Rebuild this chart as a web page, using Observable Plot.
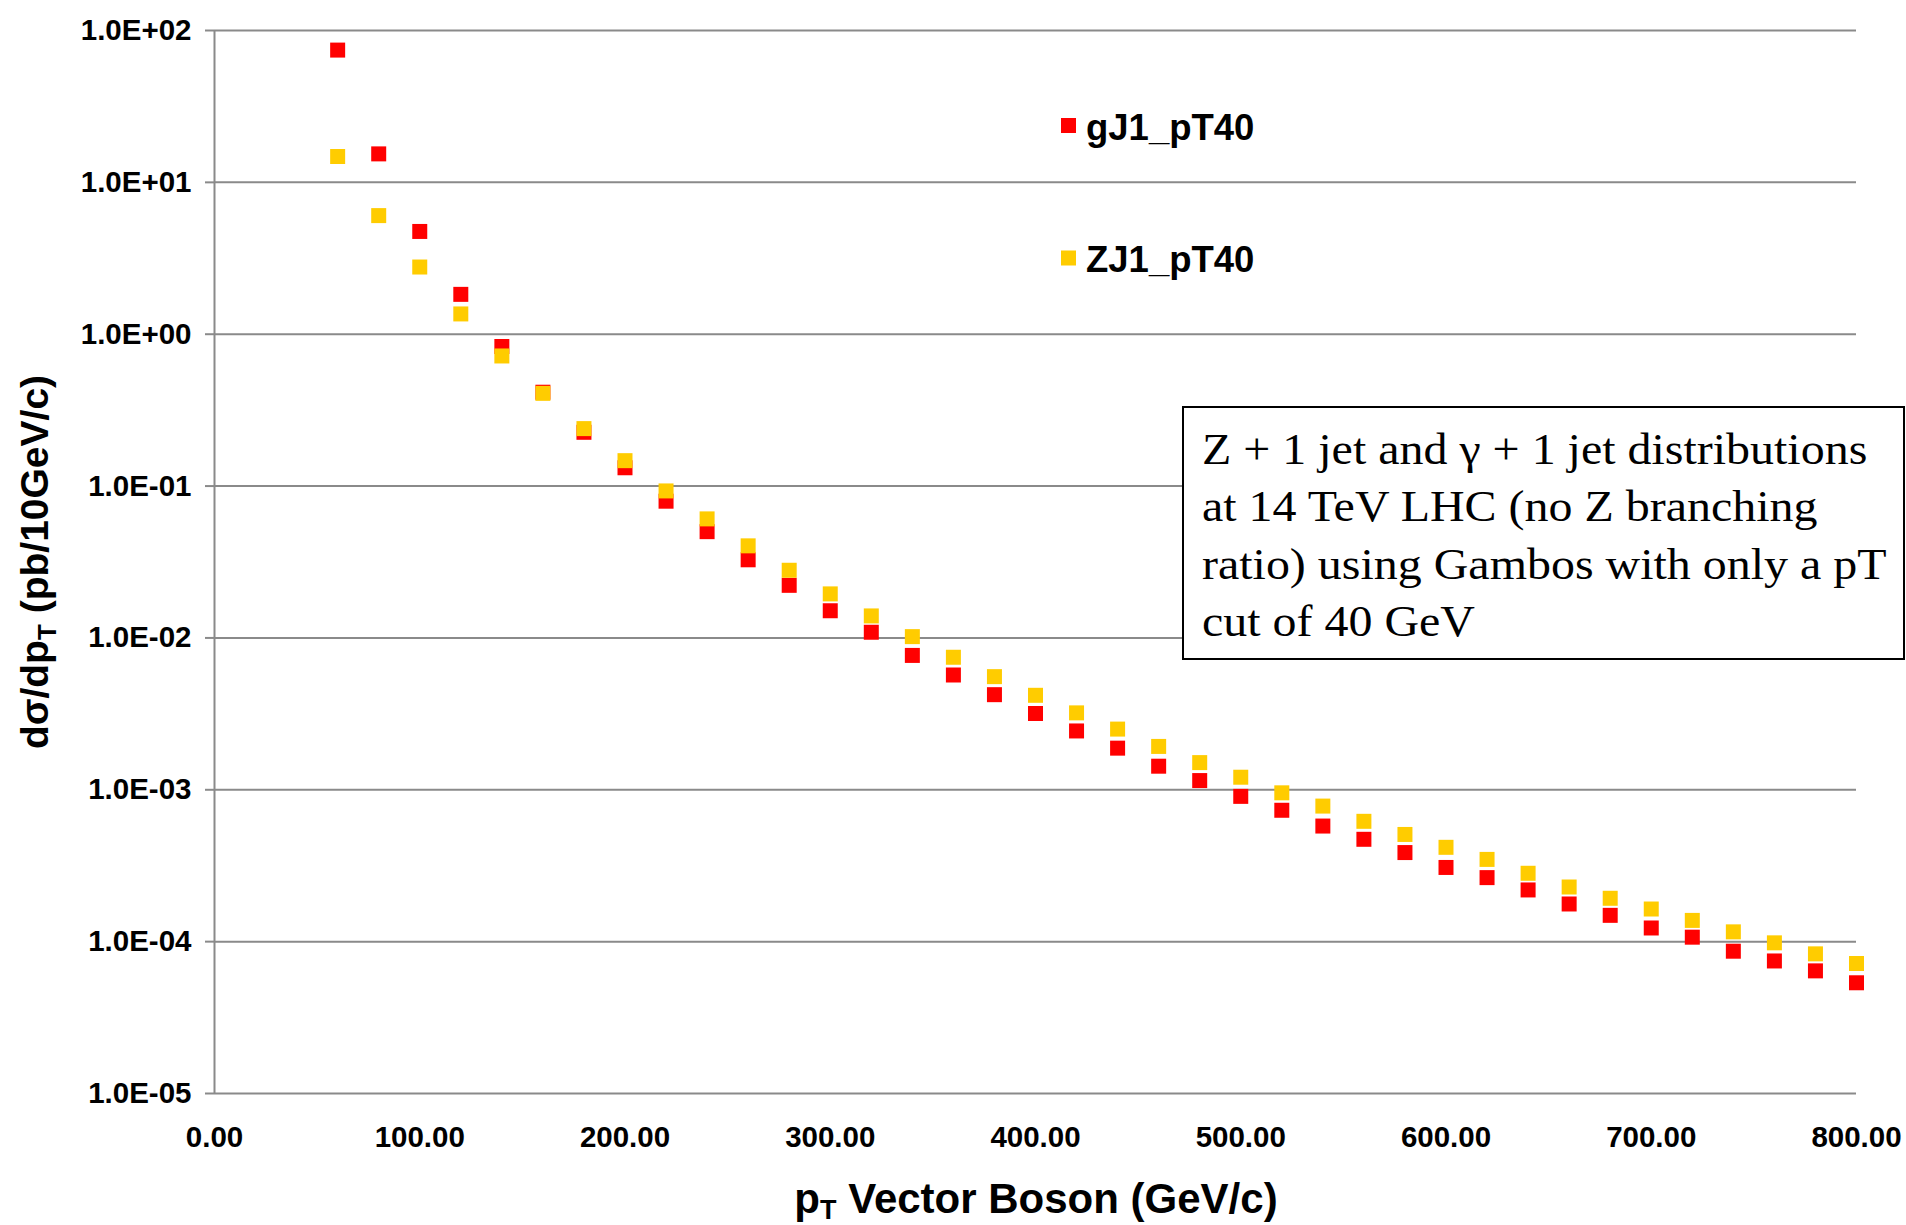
<!DOCTYPE html>
<html>
<head>
<meta charset="utf-8">
<script src="https://cdn.jsdelivr.net/npm/d3@7"></script>
<script src="https://cdn.jsdelivr.net/npm/@observablehq/plot@0.6"></script>
<style>
  html, body { margin: 0; padding: 0; background: #fff; }
</style>
</head>
<body>
<div id="chart"></div>
<script>
// ---- data ----
const pT = [60, 80, 100, 120, 140, 160, 180, 200, 220, 240, 260, 280, 300, 320, 340, 360, 380, 400, 420,
  440, 460, 480, 500, 520, 540, 560, 580, 600, 620, 640, 660, 680, 700, 720, 740, 760, 780, 800];

const gJ1_pT40 = [74.3, 15.4, 4.75, 1.83, 0.83, 0.415, 0.226, 0.132, 0.0795, 0.0501, 0.0327, 0.0222,
  0.0151, 0.0109, 0.00767, 0.0057, 0.00423, 0.00318, 0.00244, 0.00188, 0.00143, 0.00115, 0.000905,
  0.000733, 0.000577, 0.000472, 0.000386, 0.000308, 0.000264, 0.000219, 0.000177, 0.000149, 0.000123,
  0.000107, 0.0000865, 0.0000746, 0.0000642, 0.0000536];

const ZJ1_pT40 = [14.8, 6.04, 2.77, 1.36, 0.719, 0.408, 0.239, 0.147, 0.0929, 0.0608, 0.0404, 0.0279,
  0.0195, 0.01396, 0.0102, 0.00746, 0.00556, 0.00419, 0.00321, 0.00251, 0.00193, 0.00151, 0.00121,
  0.000955, 0.000781, 0.00062, 0.000508, 0.000418, 0.000348, 0.000282, 0.000229, 0.000193, 0.000164,
  0.000138, 0.000116, 0.0000982, 0.0000831, 0.0000718];

const seriesNames = ["gJ1_pT40", "ZJ1_pT40"];
const seriesColors = ["#ff0000", "#ffcc00"];

const yTicks = [1e-5, 1e-4, 1e-3, 1e-2, 1e-1, 1, 10, 100];
const yTickLabels = ["1.0E-05", "1.0E-04", "1.0E-03", "1.0E-02", "1.0E-01", "1.0E+00", "1.0E+01", "1.0E+02"];
const xTicks = [0, 100, 200, 300, 400, 500, 600, 700, 800];
const xTickLabels = ["0.00", "100.00", "200.00", "300.00", "400.00", "500.00", "600.00", "700.00", "800.00"];

const noteLines = [
  "Z + 1 jet and \u03b3 + 1 jet distributions",
  "at 14 TeV LHC (no Z branching",
  "ratio) using Gambos with only a pT",
  "cut of 40 GeV"
];

// ---- build table ----
const rows = [];
pT.forEach((x, i) => rows.push({x, y: gJ1_pT40[i], s: seriesNames[0]}));
pT.forEach((x, i) => rows.push({x, y: ZJ1_pT40[i], s: seriesNames[1]}));

const W = 1906, H = 1225;
const grid = "#8a8a8a";
const sq = 15;
const sans = "'Liberation Sans', Arial, sans-serif";

const svg = Plot.plot({
  width: W,
  height: H,
  marginLeft: 214,
  marginRight: 50,
  marginTop: 30,
  marginBottom: 132,
  style: {
    fontFamily: sans,
    fontSize: "29.5px",
    fontWeight: "bold",
    background: "#fff",
    color: "#000"
  },
  x: {domain: [0, 800]},
  y: {type: "log", domain: [1e-5, 100]},
  color: {domain: seriesNames, range: seriesColors},
  marks: [
    Plot.ruleY(yTicks, {stroke: grid, strokeWidth: 2}),
    Plot.ruleX([0], {stroke: grid, strokeWidth: 2}),
    Plot.axisY({
      ticks: yTicks,
      tickFormat: d => yTickLabels[yTicks.indexOf(d)],
      tickSize: 9,
      tickPadding: 14,
      stroke: grid,
      strokeWidth: 2,
      fill: "#000",
      label: null
    }),
    Plot.axisX({
      ticks: xTicks,
      tickFormat: d => xTickLabels[xTicks.indexOf(d)],
      tickSize: 0,
      tickPadding: 33,
      fill: "#000",
      label: null
    }),
    Plot.dot(rows, {
      x: "x",
      y: "y",
      fill: "s",
      symbol: "square",
      r: sq / Math.sqrt(Math.PI),
      stroke: "none"
    })
  ]
});

const s = d3.select(svg);

// y-axis title
s.append("text")
  .attr("transform", "translate(48,562) rotate(-90)")
  .attr("text-anchor", "middle")
  .attr("font-family", sans)
  .attr("font-weight", "bold")
  .attr("font-size", 39)
  .call(t => {
    t.append("tspan").text("d\u03c3/dp");
    t.append("tspan").attr("dy", 8).attr("font-size", 26).text("T");
    t.append("tspan").attr("dy", -8).text(" (pb/10GeV/c)");
  });

// x-axis title
s.append("text")
  .attr("x", 1036)
  .attr("y", 1213)
  .attr("text-anchor", "middle")
  .attr("font-family", sans)
  .attr("font-weight", "bold")
  .attr("font-size", 42)
  .call(t => {
    t.append("tspan").text("p");
    t.append("tspan").attr("dy", 6).attr("font-size", 27).text("T");
    t.append("tspan").attr("dy", -6).text(" Vector Boson (GeV/c)");
  });

// legend
const legendY = [125.5, 258];
seriesNames.forEach((name, i) => {
  s.append("rect")
    .attr("x", 1061).attr("y", legendY[i] - 7.5)
    .attr("width", 15).attr("height", 15)
    .attr("fill", seriesColors[i]);
  s.append("text")
    .attr("x", 1086).attr("y", legendY[i] + 14)
    .attr("text-anchor", "start")
    .attr("font-family", sans)
    .attr("font-weight", "bold")
    .attr("font-size", 36.5)
    .text(name);
});

// annotation box
s.append("rect")
  .attr("x", 1183).attr("y", 407)
  .attr("width", 721).attr("height", 252)
  .attr("fill", "#fff")
  .attr("stroke", "#000")
  .attr("stroke-width", 2);
const noteG = s.append("g").attr("transform", "translate(1202,0) scale(1.09,1)");
noteLines.forEach((line, i) => {
  noteG.append("text")
    .attr("x", 0)
    .attr("y", 464 + i * 57.5)
    .attr("text-anchor", "start")
    .attr("font-family", "'Liberation Serif', 'Times New Roman', serif")
    .attr("font-weight", "normal")
    .attr("font-size", 44)
    .text(line);
});

document.getElementById("chart").appendChild(svg);
</script>
</body>
</html>
